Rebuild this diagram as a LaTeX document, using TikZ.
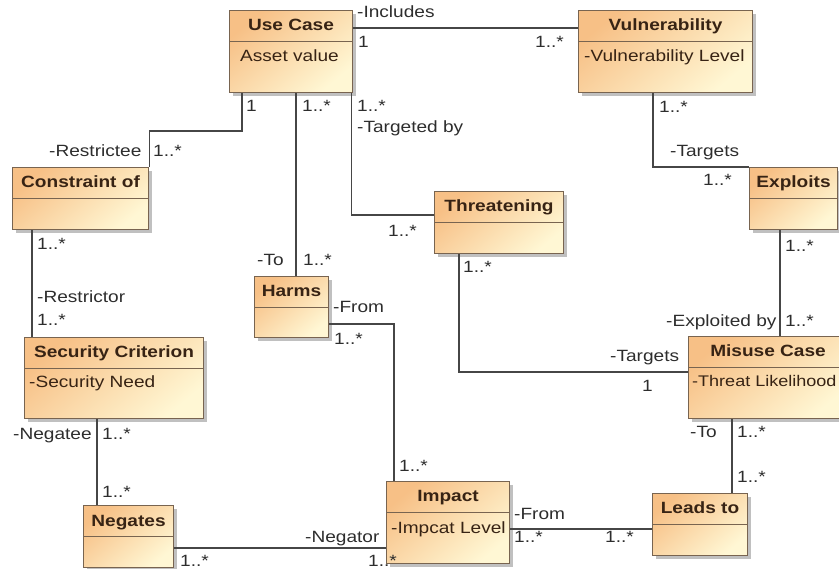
\documentclass[tikz,border=0pt]{standalone}
\usepackage{fontspec}
\setmainfont{Liberation Sans}[FakeStretch=1.17]
\usetikzlibrary{shadows}
\definecolor{clsA}{RGB}{247,192,134}
\definecolor{clsB}{RGB}{255,247,212}
\definecolor{bord}{RGB}{120,100,80}
\definecolor{ttl}{RGB}{55,35,20}
\definecolor{lnk}{RGB}{70,70,70}
\definecolor{lbl}{RGB}{45,45,45}
\tikzset{
  cls/.style={draw=bord, line width=1.1pt, top color=clsA, bottom color=clsB,
    shading angle=40, anchor=north west, inner sep=0pt,
    drop shadow={shadow xshift=3pt, shadow yshift=-3pt, fill=black!45, opacity=0.55}},
  divline/.style={draw=bord, line width=0.9pt},
  ttlsty/.style={anchor=base, inner sep=0pt, text=ttl, font=\fontsize{16.3}{19}\selectfont\bfseries},
  attsty/.style={anchor=base west, inner sep=0pt, text=ttl, font=\fontsize{16.3}{19}\selectfont},
  lblsty/.style={anchor=base west, inner sep=0pt, text=lbl, font=\fontsize{16.3}{19}\selectfont},
  conn/.style={draw=lnk, line width=1.2pt}
}
\newcommand\umlclass[6]{% name, x, y, w, h, title
  \node[cls, minimum width=#4pt, minimum height=#5pt] (#1) at (#2,-#3) {};
  \draw[divline] ([yshift=-31pt]#1.north west) -- ([yshift=-31pt]#1.north east);
  \node[ttlsty] (#1-t) at ([yshift=-21pt]#1.north) {#6};
}
\begin{document}
\begin{tikzpicture}[x=1pt,y=1pt]
\useasboundingbox (0,0) rectangle (839,-569);
% classes
\umlclass{uc}{229}{10}{123}{82}{Use Case}
\umlclass{vul}{578}{10}{174}{82}{Vulnerability}
\umlclass{exp}{749}{167}{88}{62}{Exploits}
\umlclass{thr}{434}{191}{129}{62}{Threatening}
\umlclass{con}{12}{167}{136}{62}{Constraint of}
\umlclass{harms}{254}{276}{74}{61}{Harms}
\umlclass{sec}{24}{337}{179}{81}{Security Criterion}
\umlclass{neg}{83}{505}{90}{62}{Negates}
\umlclass{imp}{386}{481}{123}{82}{Impact}
\umlclass{leads}{652}{493}{95}{62}{Leads to}
\umlclass{mis}{688}{336}{159}{82}{Misuse Case}
% attributes
\node[attsty] (uc-a) at ([xshift=11pt,yshift=-52pt]uc.north west) {Asset value};
\node[attsty] (vul-a) at ([xshift=6pt,yshift=-52pt]vul.north west) {-Vulnerability Level};
\node[attsty] (sec-a) at ([xshift=5pt,yshift=-51pt]sec.north west) {-Security Need};
\node[attsty] (imp-a) at ([xshift=5pt,yshift=-52pt]imp.north west) {-Impcat Level};
\node[attsty, font=\fontsize{15.4}{18}\selectfont] (mis-a) at ([xshift=4pt,yshift=-51pt]mis.north west) {-Threat Likelihood};
% connectors
\draw[conn] ([yshift=-18pt]uc.north east) -- ([yshift=-18pt]vul.north west);
\draw[conn] ([xshift=13pt]uc.south west) |- ([yshift=36pt]con.north east) -- (con.north east);
\draw[conn] ([xshift=42pt]harms.north west |- uc.south) -- ([xshift=42pt]harms.north west);
\draw[conn] ([xshift=-2pt]uc.south east) |- ([yshift=-24pt]thr.north west);
\draw[conn] ([xshift=75pt]vul.south west) |- (exp.north west);
\draw[conn] ([xshift=31pt]exp.south west) -- ([xshift=31pt]exp.south west |- mis.north);
\draw[conn] ([xshift=25pt]thr.south west) |- ([yshift=-36pt]mis.north west);
\draw[conn] ([xshift=44pt]mis.south west) -- ([xshift=44pt]mis.south west |- leads.north);
\draw[conn] ([yshift=-48pt]harms.north east) -| ([xshift=8pt]imp.north west);
\draw[conn] ([yshift=-48pt]imp.north east) -- ([yshift=-48pt]imp.north east -| leads.west);
\draw[conn] ([yshift=-43pt]neg.north east) -- ([yshift=-43pt]neg.north east -| imp.west);
\draw[conn] ([xshift=73pt]sec.south west) -- ([xshift=73pt]sec.south west |- neg.north);
\draw[conn] ([xshift=20pt]con.south west) -- ([xshift=20pt]con.south west |- sec.north);
% labels
\node[lblsty] (l1) at (357,-18) {-Includes};
\node[lblsty] (l2) at (358,-48) {1};
\node[lblsty] (l3) at (535,-48) {1..*};
\node[lblsty] (l4) at (246,-112) {1};
\node[lblsty] (l5) at (302,-112) {1..*};
\node[lblsty] (l6) at (357,-112) {1..*};
\node[lblsty] (l7) at (357,-133) {-Targeted by};
\node[lblsty] (l8) at (49,-157) {-Restrictee};
\node[lblsty] (l9) at (153,-157) {1..*};
\node[lblsty] (l10) at (37,-250) {1..*};
\node[lblsty] (l11) at (37,-303) {-Restrictor};
\node[lblsty] (l12) at (37,-326) {1..*};
\node[lblsty] (l13) at (257,-266) {-To};
\node[lblsty] (l14) at (303,-266) {1..*};
\node[lblsty] (l15) at (388,-237) {1..*};
\node[lblsty] (l16) at (463,-273) {1..*};
\node[lblsty] (l17) at (333,-313) {-From};
\node[lblsty] (l18) at (334,-345) {1..*};
\node[lblsty] (l19) at (399,-472) {1..*};
\node[lblsty] (l20) at (514,-520) {-From};
\node[lblsty] (l21) at (514,-542) {1..*};
\node[lblsty] (l22) at (605,-542) {1..*};
\node[lblsty] (l23) at (305,-543) {-Negator};
\node[lblsty] (l24) at (180,-566) {1..*};
\node[lblsty] (l25) at (368,-566) {1..*};
\node[lblsty] (l26) at (13,-440) {-Negatee};
\node[lblsty] (l27) at (102,-440) {1..*};
\node[lblsty] (l28) at (102,-497) {1..*};
\node[lblsty] (l29) at (659,-113) {1..*};
\node[lblsty] (l30) at (670,-157) {-Targets};
\node[lblsty] (l31) at (703,-186) {1..*};
\node[lblsty] (l32) at (785,-252) {1..*};
\node[lblsty] (l33) at (666,-327) {-Exploited by};
\node[lblsty] (l34) at (785,-327) {1..*};
\node[lblsty] (l35) at (610,-362) {-Targets};
\node[lblsty] (l36) at (642,-392) {1};
\node[lblsty] (l37) at (690,-438) {-To};
\node[lblsty] (l38) at (737,-438) {1..*};
\node[lblsty] (l39) at (737,-483) {1..*};
\end{tikzpicture}
\end{document}
